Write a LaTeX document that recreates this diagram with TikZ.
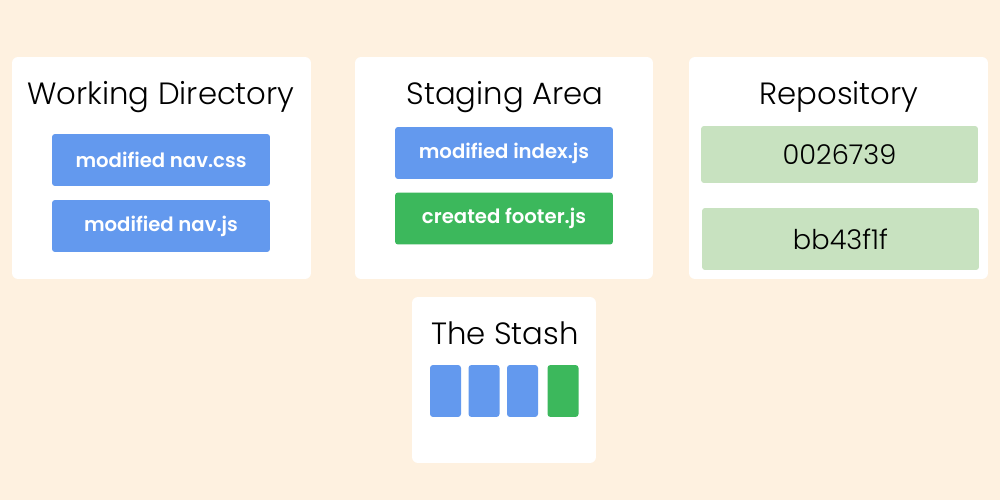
\documentclass[tikz,border=0pt]{standalone}
\usepackage{fontspec}
\setmainfont{Poppins}
\newfontfamily\lightfont{Poppins Light}
\newfontfamily\semifont{Poppins SemiBold}
\usepackage{tikz}

\definecolor{cream}{HTML}{FEF1E0}
\definecolor{fileblue}{HTML}{6399EE}
\definecolor{filegreen}{HTML}{3CB85C}
\definecolor{commitgreen}{HTML}{C8E2C0}

\begin{document}
\begin{tikzpicture}[x=0.02cm, y=-0.02cm,
		panel/.style={fill=white, rounded corners=0.12cm, inner sep=0pt},
		title/.style={anchor=base, inner sep=0pt, font=\fontsize{17.5}{20}\lightfont},
		file/.style={fill=fileblue, rounded corners=0.06cm, text=white, minimum width=4.36cm, minimum height=1.04cm, inner sep=0pt, font=\fontsize{11.2}{13}\semifont},
		created/.style={file, fill=filegreen},
		commit/.style={fill=commitgreen, rounded corners=0.06cm, minimum width=5.54cm, inner sep=0pt, font=\fontsize{15.5}{18}\lightfont},
		stashed/.style={fill=fileblue, rounded corners=0.06cm, minimum width=0.62cm, minimum height=1.04cm, inner sep=0pt},
		stashnew/.style={stashed, fill=filegreen}]
			\fill[cream] (0,0) rectangle (1000,500);
			\useasboundingbox (0,0) rectangle (1000,500);

			% Working Directory
			\node (WD) at (161.5,168) [panel, minimum width=5.98cm, minimum height=4.44cm] {};
			\node (WDt) at (161,105) [title] {Working Directory};
			\node (WD1) at (161,160) [file] {modified nav.css};
			\node (WD2) at (161,226) [file] {modified nav.js};

			% Staging Area
			\node (SA) at (504,168) [panel, minimum width=5.96cm, minimum height=4.44cm] {};
			\node (SAt) at (505,105) [title] {Staging Area};
			\node (SA1) at (504,153) [file] {modified index.js};
			\node (SA2) at (504,218.5) [created] {created footer.js};

			% Repository
			\node (RE) at (838.5,168) [panel, minimum width=5.98cm, minimum height=4.44cm] {};
			\node (REt) at (839,105) [title] {Repository};
			\node (RE1) at (839.5,154.5) [commit, minimum height=1.14cm] {0026739};
			\node (RE2) at (840.5,239) [commit, minimum height=1.24cm] {bb43f1f};

			% The Stash
			\node (ST) at (504,380) [panel, minimum width=3.68cm, minimum height=3.32cm] {};
			\node (STt) at (505,344) [title] {The Stash};
			\node (S1) at (445.5,391) [stashed] {};
			\node (S2) at (484,391) [stashed] {};
			\node (S3) at (522.5,391) [stashed] {};
			\node (S4) at (563,391) [stashnew] {};
		\end{tikzpicture}
\end{document}
